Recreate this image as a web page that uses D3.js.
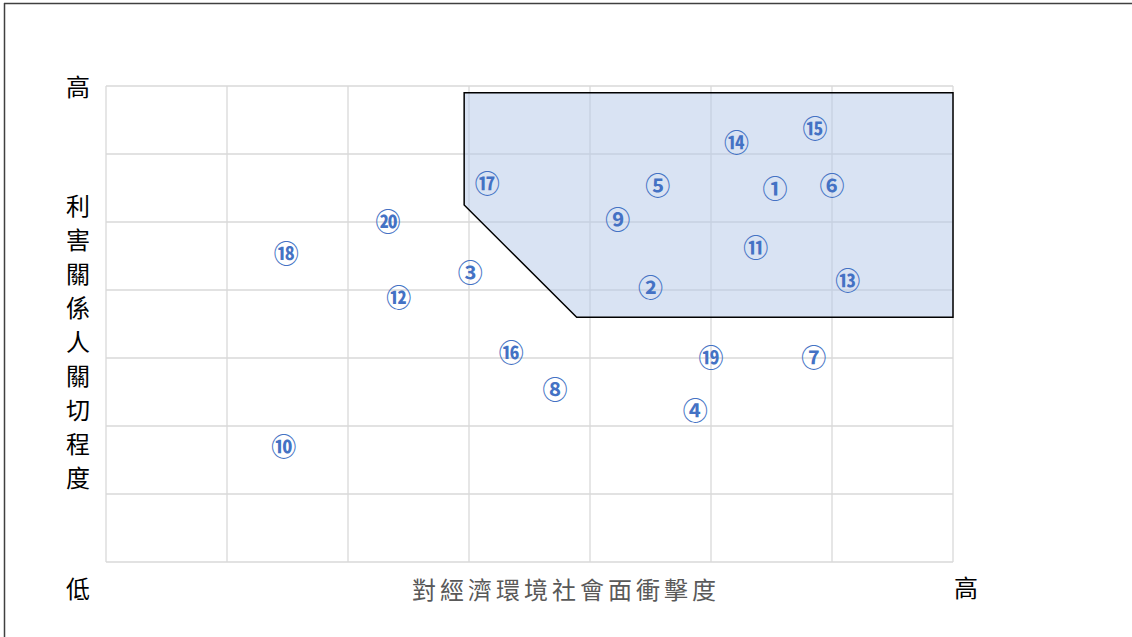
<!DOCTYPE html>
<html>
<head>
<meta charset="utf-8">
<script src="https://cdn.jsdelivr.net/npm/d3@7"></script>
<style>
  body { margin: 0; background: #fff; }
  svg { display: block; }
</style>
</head>
<body>
<svg id="chart" width="1132" height="637"></svg>
<script>
// item numbers and their positions (impact x, concern y)
var labels = ["①","②","③","④","⑤","⑥","⑦","⑧","⑨","⑩","⑪","⑫","⑬","⑭","⑮","⑯","⑰","⑱","⑲","⑳"];
var impact  = [5.53, 4.50, 3.01, 4.87, 4.56, 6.00, 5.85, 3.71, 4.23, 1.47, 5.37, 2.42, 6.13, 5.21, 5.86, 3.35, 3.15, 1.49, 5.00, 2.33];
var concern = [5.50, 4.05, 4.26, 2.24, 5.54, 5.54, 3.02, 2.55, 5.04, 1.71, 4.63, 3.89, 4.15, 6.17, 6.38, 3.09, 5.58, 4.54, 3.02, 5.01];

// shaded priority zone
var zoneX = [2.96, 2.96, 3.89, 7.0, 7.0];
var zoneY = [6.9, 5.25, 3.6, 3.6, 6.9];

var yTitle = ["利","害","關","係","人","關","切","程","度"];
var xTitle = "對經濟環境社會面衝擊度";

var svg = d3.select("#chart");

var pLeft = 106, pRight = 953, pTop = 86, pBottom = 562;

const x = d3.scaleLinear().domain([0, 7]).range([pLeft, pRight]);
const y = d3.scaleLinear().domain([0, 7]).range([pBottom, pTop]);

// frame around the slide
svg.append("line").attr("x1", 4).attr("x2", 1132).attr("y1", 3.5).attr("y2", 3.5)
    .attr("stroke", "#404040").attr("stroke-width", 1.5);
svg.append("line").attr("x1", 4.5).attr("x2", 4.5).attr("y1", 3).attr("y2", 637)
    .attr("stroke", "#404040").attr("stroke-width", 1.5);

// grid
var grid = svg.append("g");
grid.selectAll(".vx").data(d3.range(0, 8)).enter().append("line")
    .attr("x1", d => x(d)).attr("x2", d => x(d))
    .attr("y1", pTop).attr("y2", pBottom)
    .attr("stroke", "#d9d9d9").attr("stroke-width", 1.3);
grid.selectAll(".hy").data(d3.range(0, 8)).enter().append("line")
    .attr("x1", pLeft).attr("x2", pRight)
    .attr("y1", d => y(d)).attr("y2", d => y(d))
    .attr("stroke", "#d9d9d9").attr("stroke-width", 1.3);

// zone polygon
var zone = d3.line()
    .x(function(d, i) { return x(zoneX[i]); })
    .y(function(d, i) { return y(zoneY[i]); });
svg.append("path")
    .attr("d", zone(zoneX) + "Z")
    .attr("fill", "#b4c7e7")
    .attr("fill-opacity", 0.5)
    .attr("stroke", "#000")
    .attr("stroke-width", 1.5);

// point labels
svg.selectAll(".pt").data(labels).enter().append("text")
    .attr("x", function(d, i) { return x(impact[i]); })
    .attr("y", function(d, i) { return y(concern[i]) - 1; })
    .attr("text-anchor", "middle")
    .attr("dominant-baseline", "central")
    .attr("font-family", "'Noto Sans CJK TC', 'Noto Sans CJK JP', sans-serif")
    .attr("font-size", 25)
    .attr("font-weight", "bold")
    .attr("fill", "#4472c4")
    .text(d => d);

// axis words
var cjk = "'Noto Sans CJK TC', 'Noto Sans CJK SC', sans-serif";
svg.append("text").attr("x", 78).attr("y", 85).attr("text-anchor", "middle")
    .attr("dominant-baseline", "central").attr("font-family", cjk)
    .attr("font-size", 24).attr("fill", "#000").text("高");
svg.append("text").attr("x", 78).attr("y", 587).attr("text-anchor", "middle")
    .attr("dominant-baseline", "central").attr("font-family", cjk)
    .attr("font-size", 24).attr("fill", "#000").text("低");
svg.append("text").attr("x", 966).attr("y", 586).attr("text-anchor", "middle")
    .attr("dominant-baseline", "central").attr("font-family", cjk)
    .attr("font-size", 24).attr("fill", "#000").text("高");

svg.selectAll(".yt").data(yTitle).enter().append("text")
    .attr("x", 78)
    .attr("y", (d, i) => 204 + i * 34)
    .attr("text-anchor", "middle")
    .attr("dominant-baseline", "central")
    .attr("font-family", cjk)
    .attr("font-size", 24)
    .attr("fill", "#000")
    .text(d => d);

svg.append("text").attr("x", 566).attr("y", 588).attr("text-anchor", "middle")
    .attr("dominant-baseline", "central").attr("font-family", cjk)
    .attr("font-size", 24).attr("letter-spacing", 4).attr("fill", "#595959")
    .text(xTitle);
</script>
</body>
</html>
